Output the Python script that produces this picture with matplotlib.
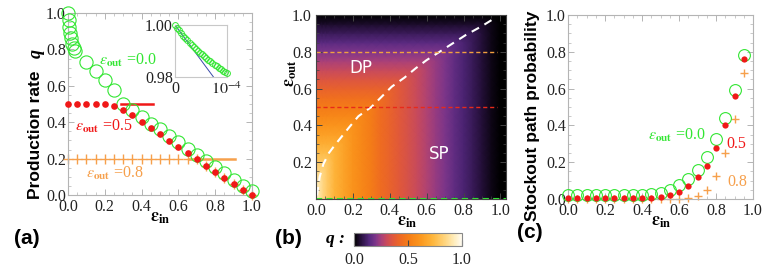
import numpy as np
import matplotlib
matplotlib.use('Agg')
import matplotlib.pyplot as plt
from matplotlib.colors import LinearSegmentedColormap

plt.rcParams['font.family'] = ['Liberation Serif', 'DejaVu Serif']
plt.rcParams['mathtext.fontset'] = 'stix'

W, H = 763, 276

# ---------------- data ----------------
# (a) production rate vs eps_in
eps_grid = [0.0, 0.05, 0.1, 0.15, 0.2, 0.25, 0.3, 0.35, 0.4, 0.45, 0.5,
            0.55, 0.6, 0.65, 0.7, 0.75, 0.8, 0.85, 0.9, 0.95, 1.0]
red_a = [0.5, 0.5, 0.5, 0.5, 0.5, 0.49, 0.467, 0.44, 0.403, 0.366, 0.333,
         0.298, 0.262, 0.229, 0.196, 0.159, 0.128, 0.095, 0.06, 0.027, 0.0]
orange_a = [0.2, 0.2, 0.2, 0.2, 0.2, 0.2, 0.2, 0.2, 0.2, 0.2, 0.2,
            0.2, 0.2, 0.2, 0.196, 0.159, 0.128, 0.095, 0.06, 0.027, 0.0]
green_a_x = [0.0, 0.003, 0.006, 0.01, 0.015, 0.02, 0.03, 0.04, 0.1, 0.15, 0.2,
             0.25, 0.3, 0.35, 0.4, 0.45, 0.5, 0.55, 0.6, 0.65, 0.7, 0.75,
             0.8, 0.85, 0.9, 0.95, 1.0]
green_a = [1.0, 0.96, 0.925, 0.89, 0.86, 0.83, 0.81, 0.79, 0.73, 0.68, 0.63,
           0.575, 0.5, 0.465, 0.43, 0.39, 0.36, 0.325, 0.29, 0.255, 0.22, 0.185,
           0.152, 0.12, 0.085, 0.05, 0.02]
red_level_x = [0.29, 0.46]
red_level = [0.5, 0.5]
orange_level_x = [0.655, 0.91]
orange_level = [0.2, 0.2]

# inset of (a)
inset_x = [0, 4, 8, 12, 16, 20, 24, 28, 32, 36, 40, 44, 48, 52, 56, 60,
           64, 68, 72, 76, 80, 84, 88, 92, 96, 100]  # x 1e-6
inset_q = [1.0, 0.9989, 0.9979, 0.9969, 0.9959, 0.9950, 0.9941, 0.9932,
           0.9924, 0.9916, 0.9908, 0.9901, 0.9894, 0.9887, 0.9880, 0.9873,
           0.9866, 0.9860, 0.9854, 0.9848, 0.9842, 0.9836, 0.9831, 0.9825,
           0.9820, 0.9815]
inset_line_x = [0, 74]
inset_line_q = [1.0, 0.98]

# (b) phase diagram: SP rate along eps_in, DP rate along eps_out
sp_in = [0.0, 0.01, 0.02, 0.04, 0.06, 0.1, 0.15, 0.2, 0.25, 0.3, 0.35, 0.4,
         0.45, 0.5, 0.55, 0.6, 0.65, 0.7, 0.75, 0.8, 0.85, 0.9, 0.95, 1.0]
sp_q = [1.0, 0.93, 0.89, 0.84, 0.80, 0.72, 0.66, 0.6, 0.55, 0.5, 0.44, 0.403,
        0.366, 0.333, 0.298, 0.262, 0.229, 0.196, 0.159, 0.128, 0.095, 0.06,
        0.027, 0.0]
dp_out = [0.0, 0.05, 0.1, 0.15, 0.2, 0.25, 0.3, 0.35, 0.4, 0.45, 0.5,
          0.55, 0.6, 0.65, 0.7, 0.75, 0.8, 0.85, 0.9, 0.95, 1.0]
dp_q = [1.0, 0.95, 0.9, 0.85, 0.8, 0.75, 0.7, 0.65, 0.6, 0.55, 0.5,
        0.45, 0.4, 0.35, 0.3, 0.25, 0.2, 0.15, 0.1, 0.05, 0.0]
bnd_in = [0.005, 0.02, 0.04, 0.07, 0.1, 0.14, 0.18, 0.23, 0.3, 0.36, 0.41,
          0.48, 0.54, 0.6, 0.67, 0.74, 0.81, 0.9, 0.98]
bnd_out = [0.02, 0.12, 0.19, 0.25, 0.29, 0.34, 0.39, 0.45, 0.5, 0.56, 0.61,
           0.66, 0.71, 0.755, 0.80, 0.845, 0.89, 0.94, 0.99]
cut_levels = [0.0, 0.5, 0.8]

# (c) stockout path probability
eps_c = [0.0, 0.05, 0.1, 0.15, 0.2, 0.25, 0.3, 0.35, 0.4, 0.45,
         0.5, 0.55, 0.6, 0.65, 0.7, 0.75, 0.8, 0.85, 0.9, 0.95]
green_c = [0.02, 0.02, 0.02, 0.02, 0.02, 0.02, 0.02, 0.02, 0.02, 0.025,
           0.035, 0.05, 0.078, 0.11, 0.158, 0.227, 0.325, 0.44, 0.59, 0.785]
red_c = [0.005, 0.005, 0.005, 0.005, 0.005, 0.005, 0.005, 0.005, 0.005, 0.008,
         0.013, 0.022, 0.04, 0.072, 0.118, 0.18, 0.276, 0.40, 0.56, 0.76]
orange_c = [0.0, 0.0, 0.0, 0.0, 0.0, 0.0, 0.0, 0.0, 0.0, 0.0,
            0.0, 0.0, 0.0, 0.005, 0.016, 0.049, 0.125, 0.248, 0.433, 0.683]

GREEN = '#33e633'
RED = '#f01818'
ORANGE = '#f6a04c'
FRAME = '#b4b4b4'
TXT = '#222222'

sunset = LinearSegmentedColormap.from_list('sunset', [
    (0.0, '#000000'), (0.07, '#2a1242'), (0.14, '#54287e'), (0.2, '#7e368a'),
    (0.25, '#a8407a'), (0.3, '#c84a5c'), (0.36, '#e0583c'), (0.43, '#ee6a22'),
    (0.52, '#f68016'), (0.62, '#fb981e'), (0.73, '#feb63c'), (0.84, '#ffd47c'),
    (0.93, '#ffedbc'), (1.0, '#fffbf2')])


def box(x0, y0, x1, y1):
    return [x0/W, 1-y1/H, (x1-x0)/W, (y1-y0)/H]


def frame(ax, color, tcolor, ypad=1.5):
    for s in ax.spines.values():
        s.set_color(color)
        s.set_linewidth(0.8)
    ax.tick_params(which='both', direction='in', top=True, right=True,
                   color=color, labelcolor=TXT, labelsize=11.5)
    ax.tick_params(which='major', length=4, width=0.7)
    ax.tick_params(which='minor', length=2, width=0.5)
    ax.tick_params(axis='y', pad=ypad)
    ax.tick_params(axis='x', pad=3)


ticks = [0.0, 0.2, 0.4, 0.6, 0.8, 1.0]
tick_lbl = ['0.0', '0.2', '0.4', '0.6', '0.8', '1.0']
minor = np.arange(0, 1.001, 0.05)

fig = plt.figure(figsize=(W/100, H/100), dpi=100)

# ---------------- (a) ----------------
ax = fig.add_axes(box(68, 13, 252, 195))
ax.plot(green_a_x, green_a, 'o', ms=9.5, mfc='none', mec=GREEN, mew=0.8,
        clip_on=False, zorder=3)
ax.plot(eps_grid, orange_a, '+', ms=6.5, mec=ORANGE, mew=1.0, clip_on=False, zorder=2)
ax.plot(eps_grid, red_a, 'o', ms=4.8, color=RED, mec='none', clip_on=False, zorder=4)
ax.plot(red_level_x, red_level, color=RED, lw=1.8, zorder=2)
ax.plot(orange_level_x, orange_level, color=ORANGE, lw=1.8, zorder=2)
ax.set_xlim(0, 1)
ax.set_ylim(0, 1)
ax.set_xticks(ticks, tick_lbl)
ax.set_yticks(ticks, tick_lbl)
ax.set_xticks(minor, minor=True)
ax.set_yticks(minor, minor=True)
frame(ax, FRAME, TXT)
ax.text(0.17, 0.74, r'$\epsilon_{\mathbf{out}}$ =0.0', color=GREEN, fontsize=11.5,
        va='center', ha='left')
ax.text(0.04, 0.375, r'$\epsilon_{\mathbf{out}}$ =0.5', color=RED, fontsize=11.5,
        va='center', ha='left')
ax.text(0.10, 0.12, r'$\epsilon_{\mathbf{out}}$ =0.8', color=ORANGE, fontsize=11.5,
        va='center', ha='left')
ax.text(0.5, -0.125, r'$\mathbf{\epsilon}_{\mathbf{in}}$', fontsize=13,
        ha='center', va='center', transform=ax.transAxes)
ax.text(-0.174, 0.33, 'Production rate', rotation=90, fontsize=12.5,
        family='Liberation Sans', weight='bold', ha='center', va='center',
        transform=ax.transAxes)
ax.text(-0.174, 0.78, 'q', rotation=90, fontsize=13, style='italic',
        weight='bold', ha='center', va='center', transform=ax.transAxes)

# inset
axi = fig.add_axes(box(175, 25, 227, 77))
axi.plot(np.array(inset_x)*1e-6, inset_q, 'o', ms=4.2, mfc='none', mec=GREEN,
         mew=0.7, clip_on=False, zorder=3)
axi.plot(np.array(inset_line_x)*1e-6, inset_line_q, color='#3a4aa8', lw=0.7, zorder=2)
axi.set_xlim(0, 1e-4)
axi.set_ylim(0.98, 1.0)
axi.set_xticks([0, 1e-4], ['0', r'$10^{-4}$'])
axi.set_yticks([0.98, 1.0], ['0.98', '1.00'])
frame(axi, '#c8c8c8', TXT)
axi.tick_params(which='both', length=0)

# ---------------- (b) ----------------
axb = fig.add_axes(box(316, 15, 506, 199))
axb.set_facecolor('black')
qgrid = np.minimum.outer(np.array(dp_q), np.array(sp_q))
mesh = axb.pcolormesh(sp_in, dp_out, qgrid, shading='gouraud', cmap=sunset,
                      vmin=0, vmax=1, rasterized=True)
axb.plot(bnd_in, bnd_out, color='white', lw=1.5, dashes=(4, 3))
axb.plot([0, 1.03], [cut_levels[0]]*2, color=GREEN, lw=1.5, dashes=(3, 2), clip_on=False)
axb.plot([0, 0.98], [cut_levels[1]]*2, color='#e82a1a', lw=1.0, dashes=(3, 2))
axb.plot([0, 0.98], [cut_levels[2]]*2, color='#f2a040', lw=1.0, dashes=(3, 2))
axb.text(0.245, 0.71, 'DP', color='white', fontsize=12, family='DejaVu Sans',
         ha='center', va='center')
axb.text(0.67, 0.245, 'SP', color='white', fontsize=12, family='DejaVu Sans',
         ha='center', va='center')
axb.set_xlim(0, 1.03)
axb.set_ylim(0, 1)
axb.set_xticks(ticks, tick_lbl)
axb.set_yticks(ticks[1:], tick_lbl[1:])
axb.set_xticks(minor[:-1] + 0.05, minor=True)
axb.set_yticks(minor, minor=True)
frame(axb, '#444444', TXT, ypad=3)
axb.text(0.48, -0.125, r'$\mathbf{\epsilon}_{\mathbf{in}}$', fontsize=13,
         ha='center', va='center', transform=axb.transAxes)
axb.text(-0.135, 0.685, r'$\mathbf{\epsilon}_{\mathbf{out}}$', fontsize=13,
         rotation=90, ha='center', va='center', transform=axb.transAxes)

# colorbar
cax = fig.add_axes(box(354, 233, 462, 246))
cb = fig.colorbar(mesh, cax=cax, orientation='horizontal', ticks=[0, 0.5, 1.0])
cb.set_ticklabels(['0.0', '0.5', '1.0'])
cb.outline.set_edgecolor('#888888')
cb.outline.set_linewidth(0.8)
cax.tick_params(direction='in', length=4, width=0.8, color='#444444',
                labelsize=11.5, labelcolor=TXT, pad=4)
fig.text(326/W, 1-239/H, 'q :', fontsize=12.5, style='italic', weight='bold',
         ha='left', va='center')

# ---------------- (c) ----------------
axc = fig.add_axes(box(568, 15, 753, 199))
axc.plot(eps_c, green_c, 'o', ms=8.5, mfc='none', mec=GREEN, mew=0.8,
         clip_on=False, zorder=3)
axc.plot(eps_c, orange_c, '+', ms=5.5, mec=ORANGE, mew=1.0, clip_on=False, zorder=2)
axc.plot(eps_c, red_c, 'o', ms=4.5, color=RED, mec='none', clip_on=False, zorder=4)
axc.set_xlim(0, 1)
axc.set_ylim(0, 1)
axc.set_xticks(ticks, tick_lbl)
axc.set_yticks(ticks, tick_lbl)
axc.set_xticks(minor, minor=True)
axc.set_yticks(minor, minor=True)
frame(axc, FRAME, TXT)
axc.text(0.43, 0.345, r'$\epsilon_{\mathbf{out}}$ =0.0', color=GREEN, fontsize=11.5,
         va='center', ha='left')
axc.text(0.855, 0.30, '0.5', color=RED, fontsize=11.5, va='center', ha='left')
axc.text(0.86, 0.09, '0.8', color=ORANGE, fontsize=11.5, va='center', ha='left')
axc.text(0.503, -0.12, r'$\mathbf{\epsilon}_{\mathbf{in}}$', fontsize=13,
         ha='center', va='center', transform=axc.transAxes)
axc.text(-0.19, 0.45, 'Stockout path probability', rotation=90, fontsize=12.5,
         family='Liberation Sans', weight='bold', ha='center', va='center',
         transform=axc.transAxes)

# panel labels
for lbl, px, py in [('(a)', 27, 239), ('(b)', 288, 238), ('(c)', 530, 233)]:
    fig.text(px/W, 1-py/H, lbl, fontsize=15, family='Liberation Sans',
             weight='bold', ha='center', va='center')

fig.savefig('out.png', dpi=100)
